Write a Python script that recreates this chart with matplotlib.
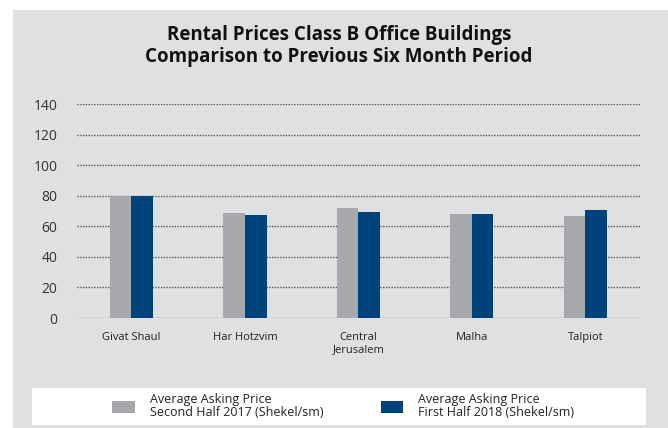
import matplotlib
matplotlib.use("Agg")
import matplotlib.pyplot as plt
from matplotlib.patches import Rectangle, Patch
import numpy as np

plt.rcParams['font.family'] = ['Open Sans', 'DejaVu Sans']

# data
areas = ["Givat Shaul", "Har Hotzvim", "Central\nJerusalem", "Malha", "Talpiot"]
price_h2_2017 = [80, 68.7, 72, 68, 66.7]
price_h1_2018 = [80, 67.4, 69.3, 68, 70.6]
series_labels = ["Average Asking Price\nSecond Half 2017 (Shekel/sm)",
                 "Average Asking Price\nFirst Half 2018 (Shekel/sm)"]
y_ticks = [0, 20, 40, 60, 80, 100, 120, 140]

bg = "#dfe0e2"
gray = "#a7a8ab"
blue = "#00427a"

fig = plt.figure(figsize=(6.68, 4.28), dpi=100)
fig.patch.set_facecolor("white")
W, H = 668, 428
# grey panel
fig.patches.append(Rectangle((13 / W, 0), 1, 1 - 10 / H, transform=fig.transFigure,
                             facecolor=bg, edgecolor="none", zorder=-2))
# white legend box
fig.patches.append(Rectangle((32 / W, 3 / H), 614 / W, 37 / H, transform=fig.transFigure,
                             facecolor="white", edgecolor="none", zorder=-1))

fig.text(339 / W, 1 - 46 / H,
         "Rental Prices Class B Office Buildings\nComparison to Previous Six Month Period",
         ha="center", va="center", fontsize=13.5, fontweight="bold", color="#111111",
         linespacing=1.15)

ax = fig.add_axes([77 / W, 1 - 318 / H, 564 / W, 214 / H])
ax.set_zorder(2)
ax.set_facecolor("none")
x = np.arange(len(areas))
w = 0.19
ax.bar(x - w / 2, price_h2_2017, w, color=gray, zorder=3)
ax.bar(x + w / 2, price_h1_2018, w, color=blue, zorder=3)

ax.set_ylim(0, 140)
ax.set_xlim(-0.48, 4.49)
ax.set_yticks(y_ticks)
ax.set_yticklabels([str(t) for t in y_ticks], fontsize=10, color="#333333")
ax.set_xticks(x)
ax.set_xticklabels(areas, fontsize=8, color="#222222", linespacing=1.1, va="top")
ax.tick_params(axis="y", length=0, pad=14)
ax.tick_params(axis="x", length=0, pad=10)
ax.grid(axis="y", color="#555555", linestyle=(0, (1, 1)), linewidth=1.0, zorder=0)
for s in ax.spines.values():
    s.set_visible(False)

handles = [Patch(facecolor=gray), Patch(facecolor=blue)]
leg = fig.legend(handles, series_labels, loc="center", ncol=2,
                 bbox_to_anchor=(343 / W, 1 - 406 / H), frameon=False,
                 fontsize=9, handlelength=1.8, handleheight=1.1,
                 columnspacing=4.6, handletextpad=1.2)
for t in leg.get_texts():
    t.set_linespacing(1.0)
    t.set_color("#222222")

fig.savefig("out.png", dpi=100, facecolor=fig.get_facecolor())
